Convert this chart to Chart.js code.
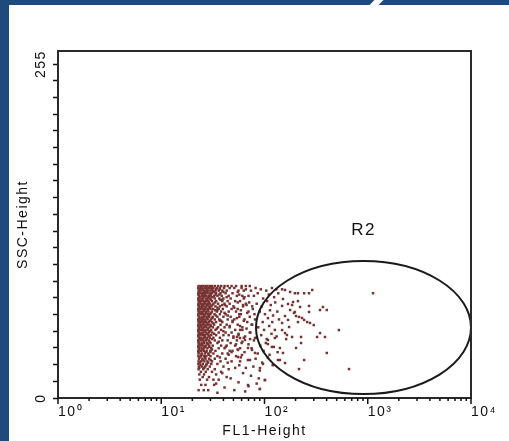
<!DOCTYPE html>
<html>
<head>
<meta charset="utf-8">
<script src="https://cdn.jsdelivr.net/npm/chart.js@4.4.0/dist/chart.umd.min.js"></script>
<style>
	html, body { margin: 0; padding: 0; }
	body { width: 509px; height: 441px; background: #1f4a7d; position: relative; overflow: hidden; }
	#panel { position: absolute; left: 9px; top: 5px; right: 0; bottom: 0; background: #fff; }
	#notch { position: absolute; left: 372px; top: 0; width: 9px; height: 5px; background: #fff; transform: skewX(-45deg); }
	canvas { position: absolute; left: 0; top: 0; }
</style>
</head>
<body>
<div id="panel"></div>
<div id="notch"></div>
<canvas id="dotplot" width="509" height="441"></canvas>
<script>
const xTitle = 'FL1-Height';
const yTitle = 'SSC-Height';
const gateName = 'R2';

const decadeValues = [1, 10, 100, 1000, 10000];
const decadeLabels = ['10⁰', '10¹', '10²', '10³', '10⁴'];
const sscLabelValues = [0, 255];
const sscTickCount = 20;

// R2 gate bounding box (FL1 range, SSC range)
const gateFl1 = [82.7, 10000];
const gateSsc = [3, 104.6];

// dense cluster, one row per SSC level: [ssc, [fl1 values]]
const coreRows = [
	[85.5, [23, 24.2, 25.5, 26.8, 28, 29.5, 31, 33, 35.5, 38, 41, 44, 48, 53, 60, 66, 72]],
	[84, [22.8, 24, 25, 26.5, 27.5, 29, 30.5, 32, 34.5, 37, 40.5, 46, 51]],
	[83, [23.6, 25.1, 27.9, 30.8, 36.8]],
	[82, [23, 24.5, 25.8, 27, 28.6, 30, 31.5, 33.5, 36, 39, 43, 56, 63]],
	[81, [23.4, 26.2, 27.6, 32.2, 40]],
	[80, [22.9, 24, 25.2, 26.6, 28, 29.4, 31, 34, 37.5, 42, 49]],
	[79, [22.9, 24.9, 26.4, 29.9, 33.6]],
	[78, [23.2, 24.6, 25.9, 27.3, 28.8, 30.2, 32.5, 35, 38.5, 45, 54, 61, 70]],
	[77, [23.5, 25.6, 28.7, 31.4, 43]],
	[76, [22.8, 24, 25.3, 26.9, 28.2, 29.8, 33, 36.5, 40, 47]],
	[75, [23.1, 24.8, 27.5, 30.3, 37.4]],
	[74, [23, 24.4, 25.7, 27.1, 28.6, 31, 34, 39, 44, 52, 58]],
	[73, [23.6, 26.3, 28.9, 33.2]],
	[72, [22.9, 24.1, 25.4, 26.7, 28.1, 29.6, 32, 35.5, 41, 46, 66]],
	[71, [22.9, 25, 27.9, 31.3, 39]],
	[70, [23.1, 24.5, 25.9, 27.4, 29, 30.6, 33.5, 37, 43, 50, 62, 76]],
	[69, [23.4, 24.7, 26.9, 29.5, 35]],
	[68, [22.8, 24, 25.2, 26.6, 28.3, 30, 31.8, 36, 39.5, 48, 55]],
	[67, [23, 25.9, 28.1, 33.3]],
	[66, [23, 24.3, 25.6, 27, 28.7, 31, 34.5, 38, 45, 53, 70]],
	[65, [23.5, 24.8, 27.3, 30.4, 41]],
	[64, [22.9, 24.2, 25.5, 26.8, 28.4, 29.8, 32.8, 37, 42, 59, 80]],
	[63, [22.9, 26.2, 28.8, 33.8]],
	[62, [23.2, 24.6, 26, 27.5, 29.2, 31.5, 35, 40, 47, 57]],
	[61, [23.4, 25.1, 27.9, 31.2]],
	[60, [22.8, 24, 25.3, 26.7, 28.1, 30.2, 33, 36.5, 44, 51, 64]],
	[59, [23, 24.7, 26.5, 29.6, 37]],
	[58, [23, 24.4, 25.8, 27.2, 28.9, 31, 34, 39, 49, 68]],
	[57, [23.6, 25.6, 28, 32]],
	[56, [22.9, 24.1, 25.5, 26.9, 28.5, 30, 32.5, 37.5, 43, 55, 75]],
	[55, [22.9, 24.3, 27, 30.2]],
	[54, [23.1, 24.5, 25.9, 27.4, 29.3, 31.6, 35.5, 41, 46, 61]],
	[53, [23.3, 25.2, 28.4, 34.5]],
	[52, [22.8, 24.2, 25.4, 26.8, 28.2, 30.4, 33.5, 38, 52, 58]],
	[51, [23, 26.3, 29.5]],
	[50, [23, 24.5, 25.7, 27.3, 29, 31.2, 36, 42, 48, 72]],
	[49, [23.5, 24.9, 27.9, 32.6]],
	[48, [22.9, 24, 25.3, 26.6, 28.6, 30.5, 34, 40, 45, 56]],
	[47, [22.9, 26.4, 29]],
	[46, [23.2, 24.4, 25.9, 27.6, 29.5, 32, 37, 50, 63]],
	[45, [23.4, 25, 27.5, 31]],
	[44, [22.8, 24.2, 25.6, 27.1, 28.8, 33, 39, 44, 54]],
	[43, [23, 25.9, 29.4]],
	[42, [23, 24.6, 26.1, 27.8, 30, 35, 47, 60]],
	[41, [23.5, 24.8, 28.3]],
	[40, [22.9, 24.1, 25.5, 27, 29.2, 31.5, 38, 43, 52]],
	[39, [22.9, 26.5, 29]],
	[38, [23.1, 24.5, 26, 28, 30.5, 36, 41, 58]],
	[37, [23.3, 25.2, 31]],
	[36, [22.8, 24.3, 25.8, 27.5, 29.8, 33.5, 46, 49]],
	[35, [23, 27, 30]],
	[34, [23, 24.6, 26.4, 28.5, 32, 39, 44]],
	[33, [24.5, 28.8]],
	[32, [22.9, 24.2, 25.9, 27.3, 30, 35, 53]],
	[31, [23.5, 26.5]],
	[30, [23.2, 25, 26.8, 29, 33, 42]],
	[29, [25.2, 30]],
	[28, [23, 24.4, 26.2, 28, 31, 37.5, 48]],
	[27, [23.6, 28.5]],
	[26, [22.9, 25.3, 27.5, 30.5, 35]],
	[25, [24, 27.3]],
	[24, [23.1, 24.8, 26.6, 29.5, 40]],
	[23, [23.4, 26.1]],
	[22, [23, 25.5, 28.2, 33, 45]],
	[20, [24.2, 27, 31, 38]],
	[18, [23.4, 26, 34]],
	[16, [25.2, 29, 43]],
	[14, [23.6, 27.8, 32, 36]],
	[10, [24.4, 26.8, 32.5]],
	[6, [23, 25.8, 28.5, 51]],
	[4, [35]]
];

// sparse events spreading to the right: [fl1, ssc]
const sparseEvents = [
	[34, 83], [36.5, 79], [39, 75], [41.5, 71], [35, 67], [44, 63], [38, 59], [46, 55],
	[40, 51], [50, 47], [36, 43], [42, 39], [48, 35], [37, 31], [44, 27], [52, 23],
	[39, 19], [47, 15], [34, 11], [41, 8], [55, 81], [51, 69], [57, 64], [49, 59],
	[53, 41], [58, 28], [45, 33], [61, 52], [63, 76], [67, 71],
	[60, 84], [66, 83], [74, 82], [82, 84], [92, 83], [104, 82], [118, 84], [130, 83],
	[57, 79], [64, 77], [79, 78], [86, 80], [97, 76], [110, 79], [124, 77], [136, 80],
	[55, 73], [62, 71], [71, 73], [84, 72], [94, 70], [106, 74], [115, 71], [127, 73],
	[59, 67], [68, 65], [77, 68], [90, 66], [101, 64], [113, 67], [121, 63], [133, 66],
	[54, 61], [63, 59], [72, 62], [81, 60], [96, 58], [108, 61], [119, 58], [138, 60],
	[58, 55], [67, 53], [76, 56], [87, 54], [99, 52], [111, 55], [126, 52],
	[56, 49], [65, 47], [73, 50], [83, 46], [93, 48], [105, 45], [117, 49], [131, 47],
	[61, 43], [70, 41], [79, 44], [91, 40], [103, 42], [123, 39],
	[55, 37], [64, 35], [75, 38], [86, 34], [98, 36], [112, 33], [134, 35],
	[59, 31], [69, 29], [82, 30], [95, 27], [108, 31],
	[57, 25], [66, 23], [78, 24], [90, 21], [120, 25],
	[62, 19], [74, 17], [88, 15], [101, 13.7],
	[56, 12], [70, 9], [84, 11], [90, 6.9], [65, 5],
	[54.2, 46.6], [57.9, 45.8], [64.7, 44.3], [72.4, 45], [80.9, 45.8], [108, 44.3], [126, 45.8],
	[108, 41.2], [118, 39], [55.4, 36.7], [60.5, 32.8], [69.2, 38.2], [75.7, 36.7], [80.9, 34.4],
	[72.4, 29], [55.4, 31.3], [90.4, 22.9], [96.7, 26], [141, 38.2], [135, 29], [101, 13.7],
	[69.2, 9.9], [90.4, 6.9],
	[148, 83], [158, 82.5], [177, 81], [197, 80], [211, 80], [242, 80], [270, 80], [290, 82.5],
	[151, 75.6], [189, 73.3], [211, 74], [169, 71.8], [185, 71], [148, 70.3], [221, 69.5],
	[270, 70.3], [368, 69.5], [345, 67.2], [401, 67.2], [177, 67.2], [197, 65.7], [270, 65.7],
	[158, 62.6], [193, 65], [202, 62.6], [216, 61.9], [231, 61.1], [242, 59.6], [259, 58],
	[211, 58], [276, 57.3], [300, 55.7], [169, 59.6], [148, 57.3], [173, 54.2], [525, 51.9],
	[148, 51.9], [158, 49.6], [165, 48.1], [345, 49.6], [185, 46.6], [226, 46.6], [323, 46.6],
	[385, 46.6], [162, 45], [226, 42], [202, 38.2], [401, 34.4], [151, 34.4], [141, 29],
	[242, 29], [158, 26.7], [216, 22.1], [658, 22.1], [1125, 80]
];

const events = [];
coreRows.forEach(([ssc, list]) => list.forEach(fl1 => events.push({ x: fl1, y: ssc })));
sparseEvents.forEach(([fl1, ssc]) => events.push({ x: fl1, y: ssc }));

const fl1TickValues = [];
decadeValues.slice(0, -1).forEach(d => {
	for(let m = 1; m < 10; m++) fl1TickValues.push(d * m);
});
fl1TickValues.push(decadeValues[decadeValues.length - 1]);

const sscTickValues = [];
for(let i = 0; i <= sscTickCount; i++) sscTickValues.push(sscLabelValues[1] * i / sscTickCount);

const FONT = 'Liberation Sans, Arial, sans-serif';
const INK = '#111';

function setSpacing(chart){
	chart.ctx.letterSpacing = '1.5px';
}

const framePlugin = {
	id: 'frame',
	beforeUpdate: setSpacing,
	beforeDraw: setSpacing,
	afterDatasetsDraw(chart){
		const { ctx, chartArea: a, scales: { x, y } } = chart;
		ctx.save();
		// gate ellipse
		const left = x.getPixelForValue(gateFl1[0]);
		const right = x.getPixelForValue(gateFl1[1]);
		const top = y.getPixelForValue(gateSsc[1]);
		const bottom = y.getPixelForValue(gateSsc[0]);
		ctx.beginPath();
		ctx.ellipse((left + right) / 2, (top + bottom) / 2, (right - left) / 2, (bottom - top) / 2, 0, 0, Math.PI * 2);
		ctx.lineWidth = 2;
		ctx.strokeStyle = '#1a1a1a';
		ctx.stroke();
		ctx.font = '17px ' + FONT;
		ctx.fillStyle = INK;
		ctx.textAlign = 'center';
		ctx.textBaseline = 'middle';
		ctx.fillText(gateName, (left + right) / 2, top - 31);
		// plot box
		ctx.lineWidth = 2;
		ctx.strokeStyle = '#2a2a2a';
		ctx.strokeRect(a.left, a.top, a.right - a.left, a.bottom - a.top);
		// log ticks on x
		ctx.lineWidth = 1.5;
		ctx.strokeStyle = '#111';
		fl1TickValues.forEach(v => {
			const px = x.getPixelForValue(v);
			const len = decadeValues.includes(v) ? 6 : 3;
			ctx.beginPath();
			ctx.moveTo(px, a.bottom);
			ctx.lineTo(px, a.bottom + len);
			ctx.stroke();
		});
		ctx.restore();
	}
};

new Chart(document.getElementById('dotplot'), {
	type: 'scatter',
	data: {
		datasets: [{
			data: events,
			pointStyle: 'rect',
			pointRadius: 1.75,
			pointHoverRadius: 1.75,
			borderWidth: 0,
			backgroundColor: '#773232'
		}]
	},
	options: {
		responsive: false,
		animation: false,
		events: [],
		layout: { padding: { top: 51, right: 38, left: 0, bottom: 0 } },
		plugins: { legend: { display: false }, tooltip: { enabled: false } },
		scales: {
			x: {
				type: 'logarithmic',
				min: 1,
				max: 10000,
				afterBuildTicks: (s) => { s.ticks = fl1TickValues.map(v => ({ value: v })); },
				afterFit: (s) => { s.height = 43; },
				grid: { display: false, drawTicks: false },
				border: { display: false },
				ticks: {
					autoSkip: false,
					align: 'start',
					maxRotation: 0,
					padding: 6,
					color: INK,
					font: { family: FONT, size: 14 },
					callback: (v) => {
						const i = decadeValues.indexOf(v);
						return i >= 0 ? decadeLabels[i] : '';
					}
				},
				title: { display: true, text: xTitle, color: INK, font: { family: FONT, size: 14 }, padding: { top: 0, bottom: 1 } }
			},
			y: {
				min: 0,
				max: 265,
				afterBuildTicks: (s) => { s.ticks = sscTickValues.map(v => ({ value: v })); },
				afterFit: (s) => { s.width = 58; },
				grid: { drawOnChartArea: false, drawTicks: true, tickLength: 5, tickColor: '#111', tickWidth: 1.5 },
				border: { display: false },
				ticks: {
					autoSkip: false,
					minRotation: 90,
					maxRotation: 90,
					crossAlign: 'center',
					padding: -2,
					color: INK,
					font: { family: FONT, size: 14 },
					callback: (v) => sscLabelValues.includes(v) ? String(v) : ''
				},
				title: { display: true, text: yTitle, color: INK, font: { family: FONT, size: 14 }, padding: { top: 15, bottom: 0 } }
			}
		}
	},
	plugins: [framePlugin]
});
</script>
</body>
</html>
